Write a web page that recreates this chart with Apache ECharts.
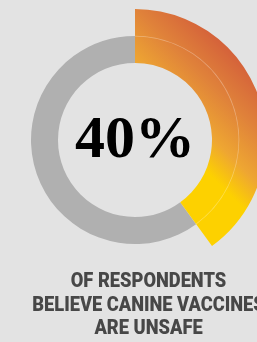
<!DOCTYPE html>
<html>
<head>
<meta charset="utf-8">
<script src="https://cdn.jsdelivr.net/npm/echarts@6/dist/echarts.min.js"></script>
<style>
  html, body { margin: 0; padding: 0; background: #e3e3e3; }
  #main { width: 257px; height: 342px; }
</style>
</head>
<body>
<div id="main"></div>
<script>
// share of respondents
var sliceNames = ['unsafe', 'other'];
var sliceValues = [40, 60];
var centerLabel = '40%';
var captionLines = ['OF RESPONDENTS', 'BELIEVE CANINE VACCINES', 'ARE UNSAFE'];

var myChart = echarts.init(document.getElementById('main'));

var warm = {
  type: 'linear', global: true,
  x: 266, y: 10, x2: 136, y2: 140,
  colorStops: [
    { offset: 0, color: '#d25a3b' },
    { offset: 0.3, color: '#d5633a' },
    { offset: 0.5, color: '#e0833a' },
    { offset: 0.7, color: '#eea632' },
    { offset: 0.85, color: '#fdd100' },
    { offset: 1, color: '#fdd100' }
  ]
};

function slices(styles) {
  var arr = [];
  for (var i = 0; i < sliceValues.length; i++) {
    arr.push({ name: sliceNames[i], value: sliceValues[i], itemStyle: styles[i] });
  }
  return arr;
}

var common = {
  type: 'pie',
  center: [135, 140],
  startAngle: 90,
  clockwise: true,
  silent: true,
  label: { show: false },
  labelLine: { show: false },
  emphasis: { disabled: true }
};

myChart.setOption({
  backgroundColor: '#e3e3e3',
  animation: false,
  series: [
    Object.assign({}, common, {
      radius: [77, 104],
      data: slices([{ color: 'rgba(0,0,0,0)' }, { color: '#b0b0b0', borderWidth: 0 }])
    }),
    Object.assign({}, common, {
      radius: [77, 131],
      data: slices([{ color: warm, borderWidth: 0 }, { color: 'rgba(0,0,0,0)' }])
    }),
    // faint line where the grey ring would continue
    Object.assign({}, common, {
      radius: [103.5, 104.3],
      data: slices([{ color: 'rgba(255,255,255,0.3)' }, { color: 'rgba(0,0,0,0)' }])
    })
  ],
  graphic: [
    {
      type: 'text', x: 135, y: 141,
      style: {
        text: centerLabel, x: 0, y: 0,
        font: 'bold 60px "Liberation Serif", serif',
        fill: '#000', align: 'center', verticalAlign: 'middle'
      }
    }
  ].concat(captionLines.map(function (t, i) {
    return {
      type: 'text', x: 148.5, y: 282 + i * 23.5, scaleX: 0.87,
      style: {
        text: t, x: 0, y: 0,
        font: '900 21px Roboto, sans-serif',
        fill: '#474747', align: 'center', verticalAlign: 'middle'
      }
    };
  }))
});
</script>
</body>
</html>
